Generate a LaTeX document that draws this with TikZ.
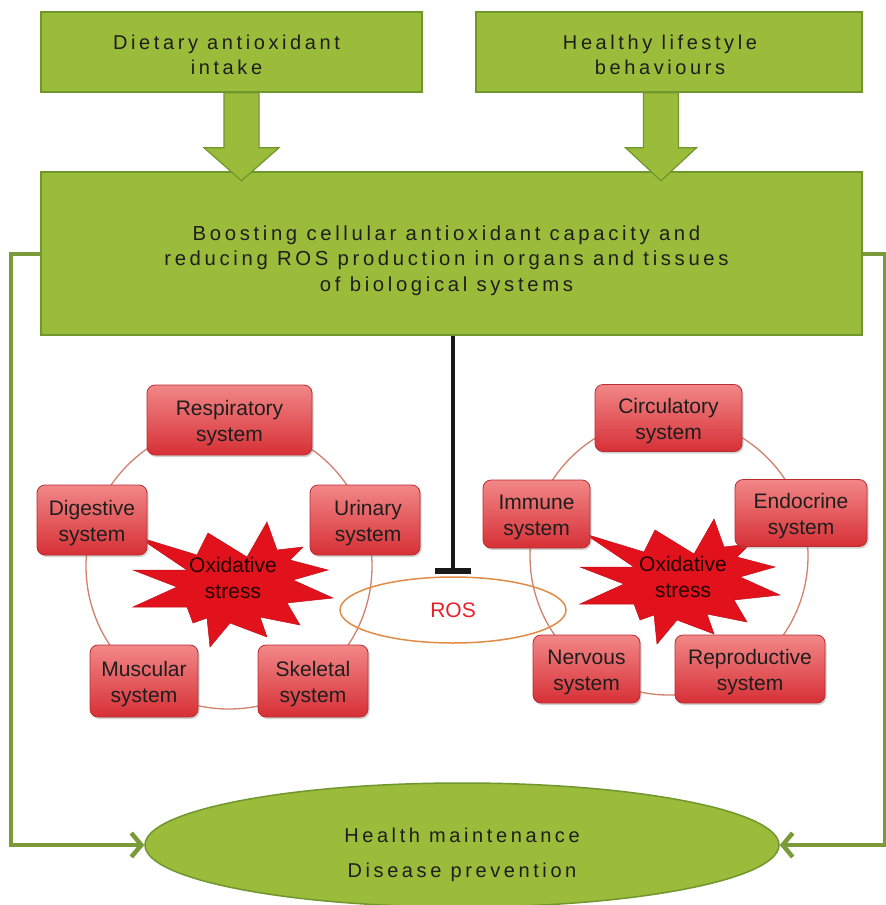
\documentclass[tikz,border=0pt]{standalone}
\usepackage{fontspec}
\setmainfont{Liberation Sans}
\newfontfamily\spacedfont[LetterSpace=18]{Liberation Sans}
\usetikzlibrary{shapes.geometric,arrows.meta,shadows,calc}
\newcommand\tdown[2]{\raisebox{0pt}[\dimexpr\height+#1+#1\relax]{\begin{tabular}{@{}c@{}}#2\end{tabular}}}
\definecolor{gfill}{RGB}{155,187,59}
\definecolor{gline}{RGB}{112,150,46}
\definecolor{sidecol}{RGB}{123,155,58}
\definecolor{rtop}{RGB}{242,135,135}
\definecolor{rbot}{RGB}{214,48,54}
\definecolor{rline}{RGB}{185,45,50}
\definecolor{starcol}{RGB}{226,18,28}
\definecolor{ringcol}{RGB}{208,128,108}
\definecolor{roscol}{RGB}{225,140,70}
\definecolor{txt}{RGB}{30,30,30}
\tikzset{
  greenbox/.style={draw=gline,line width=1.5pt,fill=gfill,inner sep=0pt,text=txt,
    font=\spacedfont\fontsize{20.3}{25.5}\selectfont},
  blockarrow/.style={draw=gline,line width=1.2pt,fill=gfill,line join=miter},
  sysbox/.style={rounded corners=8pt,draw=rline,line width=0.8pt,top color=rtop,bottom color=rbot,
    inner sep=0pt,text=txt,font=\fontsize{21}{26}\selectfont,
    drop shadow={opacity=0.35,shadow xshift=1.5pt,shadow yshift=-2pt}},
  ring/.style={draw=ringcol,line width=1.3pt},
  sideline/.style={draw=sidecol,line width=4pt,-{Straight Barb[length=10pt,width=24pt,line width=4.5pt]}},
  starred/.style={fill=starcol,draw=starcol!85!black,line width=0.5pt,line join=miter},
  startext/.style={align=center,text=black!85!red,font=\fontsize{21}{26}\selectfont},
  oxstar/.pic={\path[starred] (34,-61) -- (14,-26) -- (-25,-50) -- (-36,-28) -- (-95,-46) -- (-46,-13)
      -- (-100,-13) -- (-56,4) -- (-100,24) -- (-46,24) -- (-40,40) -- (-26,35) -- (-23,64) -- (-3,40)
      -- (34,54) -- (27,34) -- (67,42) -- (54,20) -- (100,15) -- (60,-3) -- (95,-13) -- (57,-23)
      -- (70,-36) -- (44,-33) -- cycle;}
}
\begin{document}
\begin{tikzpicture}[x=1pt,y=-1pt]
\useasboundingbox (0,0) rectangle (886,905);
\fill[white] (0,0) rectangle (886,905);

% top boxes
\node[greenbox,minimum width=381,minimum height=80,font=\spacedfont\fontsize{20}{25}\selectfont] (dai) at (231.5,52)
  {\tdown{5pt}{Dietary antioxidant\\intake}\hspace*{10pt}};
\node[greenbox,minimum width=386,minimum height=80,font=\spacedfont\fontsize{20}{25}\selectfont] (hlb) at (669,52)
  {\tdown{5pt}{Healthy lifestyle\\behaviours}\hspace*{18pt}};

% big box
\node[greenbox,minimum width=821,minimum height=163] (big) at (451.5,253.5)
  {\tdown{7pt}{Boosting cellular antioxidant capacity and\\reducing ROS production in organs and tissues\\of biological systems}\hspace*{10pt}};

% block arrows
\path ([xshift=10pt]dai.south) coordinate (a1);
\path ([xshift=-8pt]hlb.south) coordinate (a2);
\draw[blockarrow] (a1) ++(-17.5,0) -- ++(0,55) -- ++(-20,0) -- ++(37.5,33) -- ++(37.5,-33) -- ++(-20,0) -- ++(0,-55) -- cycle;
\draw[blockarrow] (a2) ++(-17.5,0) -- ++(0,55) -- ++(-18,0) -- ++(35.5,33) -- ++(35.5,-33) -- ++(-18,0) -- ++(0,-55) -- cycle;

% bottom ellipse
\node[ellipse,draw=gline,line width=1.5pt,fill=gfill,minimum width=634,minimum height=124,inner sep=0pt,
  text=txt,font=\spacedfont\fontsize{20}{35}\selectfont] (health) at (462,845)
  {\tdown{8pt}{Health maintenance\\Disease prevention}};

% side connectors
\draw[sideline] (big.west) -- ++(-29,0) |- (health.west);
\draw[sideline] (big.east) -- ++(22,0) |- (health.east);

% rings
\coordinate (lc) at (229,566);
\coordinate (rc) at (669,556);
\draw[ring] (lc) circle[radius=143];
\draw[ring] (rc) circle[radius=139];

% ROS
\node[ellipse,draw=roscol,line width=1.5pt,minimum width=226,minimum height=66,inner sep=0pt,
  text={rgb,255:red,232;green,32;blue,42},font=\fontsize{21}{25}\selectfont] (ros) at (453,610) {ROS};
\draw[line width=4.5pt,black!90,-{Bar[width=36pt,line width=6pt]},shorten >=2pt] (big.south -| ros.north) -- (ros.north);

% stars
\pic at (233,583) {oxstar};
\pic at (680,580) {oxstar};
\node[startext] (ox1) at (233,578) {Oxidative\\stress};
\node[startext] (ox2) at (683,577) {Oxidative\\stress};

% left system boxes
\node[sysbox,minimum width=165,minimum height=70] (resp) at (229.5,420) {\tdown{3pt}{Respiratory\\system}};
\node[sysbox,minimum width=110,minimum height=70] (dig) at (92,520) {\tdown{3pt}{Digestive\\system}};
\node[sysbox,minimum width=110,minimum height=70] (uri) at (365,520) {\hspace*{6pt}\tdown{3pt}{Urinary\\system}};
\node[sysbox,minimum width=108,minimum height=72] (mus) at (144,681) {\tdown{3pt}{Muscular\\system}};
\node[sysbox,minimum width=110,minimum height=72] (ske) at (313,681) {\tdown{3pt}{Skeletal\\system}};

% right system boxes
\node[sysbox,minimum width=147,minimum height=67] (circ) at (668.5,418) {\tdown{3pt}{Circulatory\\system}};
\node[sysbox,minimum width=107,minimum height=68] (imm) at (536.5,514) {\tdown{3pt}{Immune\\system}};
\node[sysbox,minimum width=132,minimum height=67] (endo) at (801,513) {\tdown{3pt}{Endocrine\\system}};
\node[sysbox,minimum width=107,minimum height=68] (nerv) at (586.5,669) {\tdown{3pt}{Nervous\\system}};
\node[sysbox,minimum width=150,minimum height=68] (repr) at (750,669) {\tdown{3pt}{Reproductive\\system}};
\end{tikzpicture}
\end{document}
